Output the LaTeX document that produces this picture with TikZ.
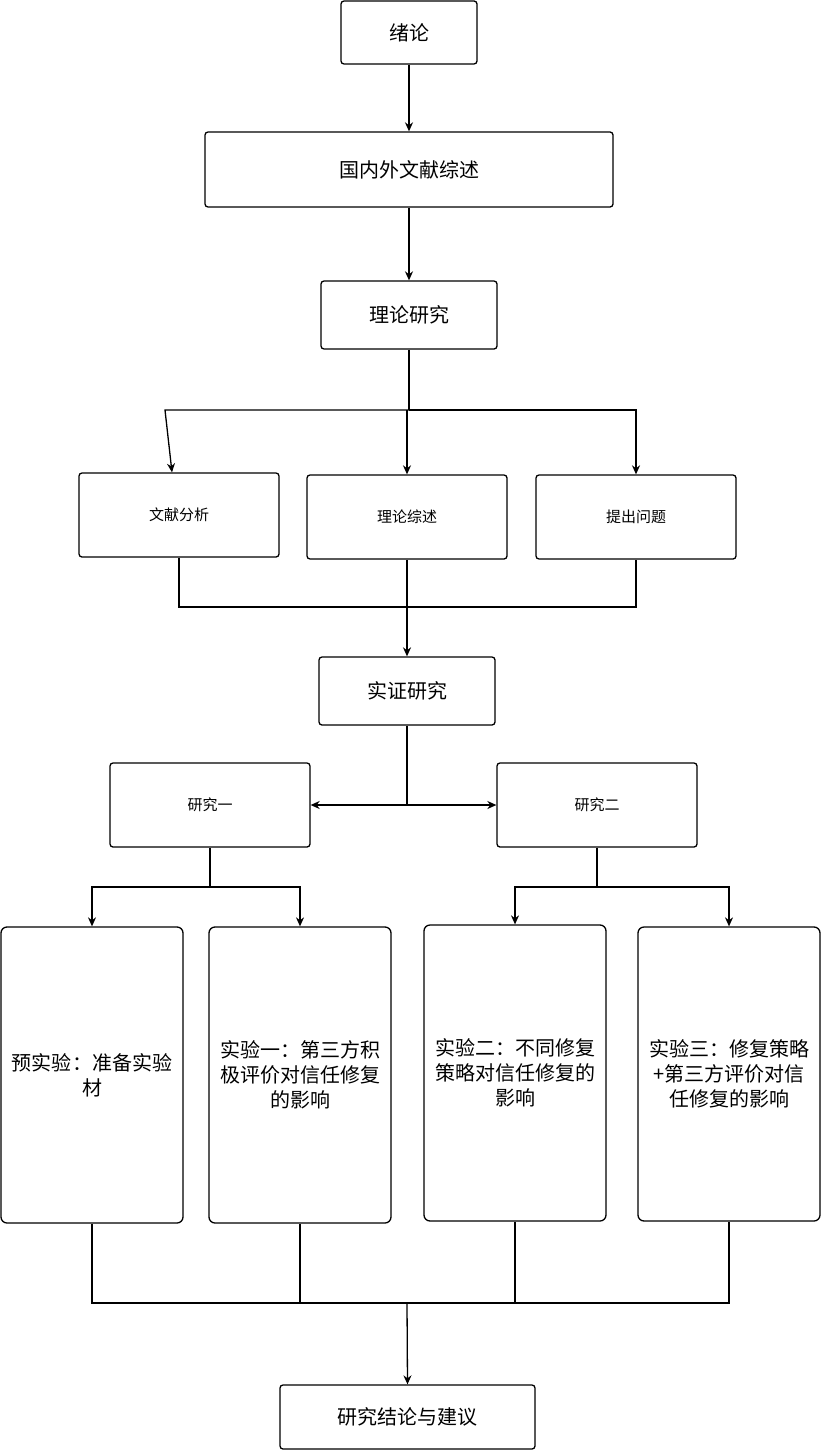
\documentclass[tikz,border=0pt]{standalone}
\usepackage{fontspec}
\setmainfont{Noto Sans CJK SC}
\usetikzlibrary{arrows.meta}

\begin{document}
\begin{tikzpicture}[x=1pt, y=-1pt, line width=1.3pt]
  \tikzset{big node/.style={rectangle,draw,rounded corners=3pt,fill=white,align=center,
      inner sep=0pt,font=\fontsize{20}{25}\selectfont}}
  \tikzset{small node/.style={rectangle,draw,rounded corners=3pt,fill=white,align=center,
      inner sep=0pt,minimum width=200pt,minimum height=84pt,font=\fontsize{15}{18}\selectfont}}
  \tikzset{tall node/.style={rectangle,draw,rounded corners=6pt,fill=white,align=center,
      inner sep=0pt,minimum width=182pt,minimum height=296pt,text width=176pt,
      font=\fontsize{20}{25}\selectfont}}
  \tikzset{arr/.style={-{Stealth[length=9pt,width=8pt]}}}

  \useasboundingbox (0,0) rectangle (821,1450);

  \path
    (409, 32.5)  node[big node, minimum width=136pt, minimum height=63pt](intro) {绪论}
    (409, 169.5) node[big node, minimum width=408pt, minimum height=75pt](review) {国内外文献综述}
    (409, 315)   node[big node, minimum width=176pt, minimum height=68pt](theory) {理论研究}
    (179, 515)   node[small node](lit) {文献分析}
    (407, 517)   node[small node](summ) {理论综述}
    (636, 517)   node[small node](ques) {提出问题}
    (407, 691)   node[big node, minimum width=176pt, minimum height=68pt](empir) {实证研究}
    (210, 805)   node[small node](st1) {研究一}
    (597, 805)   node[small node](st2) {研究二}
    (92, 1075)   node[tall node](pre) {预实验：准备实验\\材}
    (300, 1075)  node[tall node](ex1) {实验一：第三方积\\极评价对信任修复\\的影响}
    (515, 1073)  node[tall node](ex2) {实验二：不同修复\\策略对信任修复的\\影响}
    (729, 1074)  node[tall node, minimum height=294pt](ex3) {实验三：修复策略\\+第三方评价对信\\任修复的影响}
    (407.5, 1417) node[big node, minimum width=255pt, minimum height=64pt](concl) {研究结论与建议}
  ;

  \coordinate (split1) at (409, 410);
  \coordinate (join1) at (407, 607);
  \coordinate (split2) at (407, 805);
  \coordinate (split3) at (210, 887);
  \coordinate (split4) at (597, 887);
  \coordinate (join2) at (407, 1303);

  \draw[arr] (intro) -- (review);
  \draw[arr] (review) -- (theory);

  \draw (theory) -- (split1);
  \draw[arr] (split1) -- (165, 410) -- (lit.north -| 172, 0);
  \draw[arr] (split1) -| (ques.north);
  \draw[arr] (407, 410) -- (summ.north);

  \draw (lit.south) |- (join1) -| (ques.south);
  \draw[arr] (summ.south) -- (empir.north);

  \draw (empir.south) -- (split2);
  \draw[arr] (split2) -- (st1.east);
  \draw[arr] (split2) -- (st2.west);

  \draw (st1.south) -- (split3);
  \draw[arr] (split3) -| (pre.north);
  \draw[arr] (split3) -| (ex1.north);
  \draw (st2.south) -- (split4);
  \draw[arr] (split4) -| (ex2.north);
  \draw[arr] (split4) -| (ex3.north);

  \draw (pre.south) |- (join2) -| (ex3.south);
  \draw (ex1.south) -- (ex1.south |- join2);
  \draw (ex2.south) -- (ex2.south |- join2);
  \draw[arr] (join2) -- (concl.north);
\end{tikzpicture}
\end{document}
